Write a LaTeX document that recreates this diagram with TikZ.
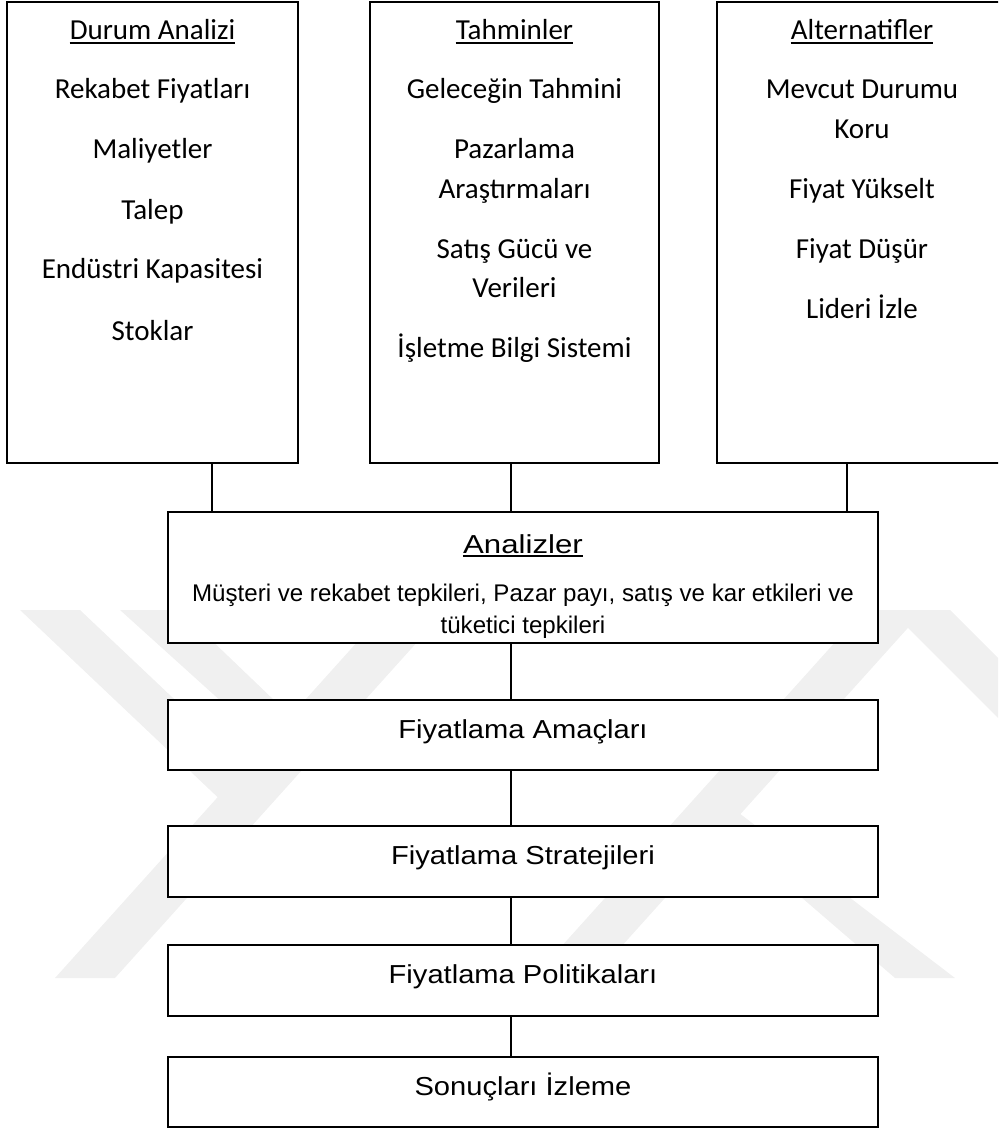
\documentclass[tikz,border=0pt]{standalone}
\usepackage{fontspec}
\usepackage{graphicx}
\newfontfamily\carl{Carlito}
\newfontfamily\arl{Liberation Sans}
\begin{document}
\begin{tikzpicture}[x=1pt,y=-1pt,
  wm/.style={fill=black!6, draw=none},
  tallbox/.style={draw=black, line width=2pt, fill=white, inner sep=0pt,
    minimum width=#1, minimum height=461pt},
  flowbox/.style={draw=black, line width=1.8pt, fill=white, inner sep=0pt,
    minimum width=710pt, minimum height=#1},
  conn/.style={draw=black, line width=1.3pt},
  uline/.style={draw=black, line width=1.8pt},
  toptxt/.style={font=\carl\fontsize{29}{35}\selectfont, inner sep=0pt, anchor=base},
  flowtxt/.style={font=\arl\fontsize{26}{30}\selectfont, inner sep=0pt, anchor=base},
  smalltxt/.style={font=\arl\fontsize{24.1}{28}\selectfont, inner sep=0pt, anchor=base}]
\useasboundingbox (0,0) rectangle (998,1131);
\clip (0,0) rectangle (998,1131);
% watermark
\fill[wm] (55,978) -- (115,978) -- (446,610) -- (386,610) -- cycle;
\fill[wm] (20,610) -- (80,610) -- (265,785) -- (228,807) -- cycle;
\fill[wm] (120,610) -- (180,610) -- (300,725) -- (275,750) -- cycle;
\fill[wm] (533,978) -- (593,978) -- (924,610) -- (864,610) -- cycle;
\fill[wm] (705,787) -- (955,978) -- (895,978) -- (700,810) -- cycle;
\fill[wm] (890,610) -- (950,610) -- (1060,720) -- (1000,720) -- cycle;
% connector columns
\coordinate (k1) at (212,0);
\coordinate (k2) at (511,0);
\coordinate (k3) at (847,0);
% top boxes
\node[tallbox=291pt] (b1) at (152.5,232.5) {};
\node[tallbox=289pt] (b2) at (514.5,232.5) {};
\node[tallbox=290pt] (b3) at (862,232.5) {};
% flow boxes
\node[flowbox=131pt] (an) at (523,577.5) {};
\node[flowbox=70pt] (am) at (523,735) {};
\node[flowbox=71pt] (st) at (523,861.5) {};
\node[flowbox=71pt] (po) at (523,980.5) {};
\node[flowbox=70pt] (so) at (523,1092) {};
% connectors
\draw[conn] (b1.south -| k1) -- (an.north -| k1);
\draw[conn] (b2.south -| k2) -- (an.north -| k2);
\draw[conn] (b3.south -| k3) -- (an.north -| k3);
\draw[conn] (an.south -| k2) -- (am.north -| k2);
\draw[conn] (am.south -| k2) -- (st.north -| k2);
\draw[conn] (st.south -| k2) -- (po.north -| k2);
\draw[conn] (po.south -| k2) -- (so.north -| k2);
% box 1 texts
\node[toptxt] (h1) at (152.5,40) {Durum Analizi};
\node[toptxt] (t11) at (152.5,99) {Rekabet Fiyatları};
\node[toptxt] (t12) at (152.5,159) {Maliyetler};
\node[toptxt] (t13) at (152.5,220) {Talep};
\node[toptxt] (t14) at (152.5,279) {Endüstri Kapasitesi};
\node[toptxt] (t15) at (152.5,340) {Stoklar};
% box 2 texts
\node[toptxt] (h2) at (514.5,40) {Tahminler};
\node[toptxt] (t21) at (514.5,99) {Geleceğin Tahmini};
\node[toptxt] (t22) at (514.5,159) {Pazarlama};
\node[toptxt] (t23) at (514.5,199) {Araştırmaları};
\node[toptxt] (t24) at (514.5,259) {Satış Gücü ve};
\node[toptxt] (t25) at (514.5,298) {Verileri};
\node[toptxt] (t26) at (514.5,357) {İşletme Bilgi Sistemi};
% box 3 texts
\node[toptxt] (h3) at (862,40) {Alternatifler};
\node[toptxt] (t31) at (862,99) {Mevcut Durumu};
\node[toptxt] (t32) at (862,139) {Koru};
\node[toptxt] (t33) at (862,199) {Fiyat Yükselt};
\node[toptxt] (t34) at (862,259) {Fiyat Düşür};
\node[toptxt] (t35) at (862,318) {Lideri İzle};
% underlines
\draw[uline] ([yshift=-3pt]h1.base west) -- ([yshift=-3pt]h1.base east);
\draw[uline] ([yshift=-3pt]h2.base west) -- ([yshift=-3pt]h2.base east);
\draw[uline] ([yshift=-3pt]h3.base west) -- ([yshift=-3pt]h3.base east);
% flow texts
\node[flowtxt] (anh) at (523,553) {\scalebox{1.2}[1]{Analizler}};
\draw[uline] ([yshift=-3pt]anh.base west) -- ([yshift=-3pt]anh.base east);
\node[smalltxt] (an1) at (523,601) {Müşteri ve rekabet tepkileri, Pazar payı, satış ve kar etkileri ve};
\node[smalltxt] (an2) at (523,633) {tüketici tepkileri};
\node[flowtxt] (amt) at (523,738) {\scalebox{1.12}[1]{Fiyatlama Amaçları}};
\node[flowtxt] (stt) at (523,864) {\scalebox{1.12}[1]{Fiyatlama Stratejileri}};
\node[flowtxt] (pot) at (523,983) {\scalebox{1.12}[1]{Fiyatlama Politikaları}};
\node[flowtxt] (sot) at (523,1095) {\scalebox{1.12}[1]{Sonuçları İzleme}};
\end{tikzpicture}
\end{document}
